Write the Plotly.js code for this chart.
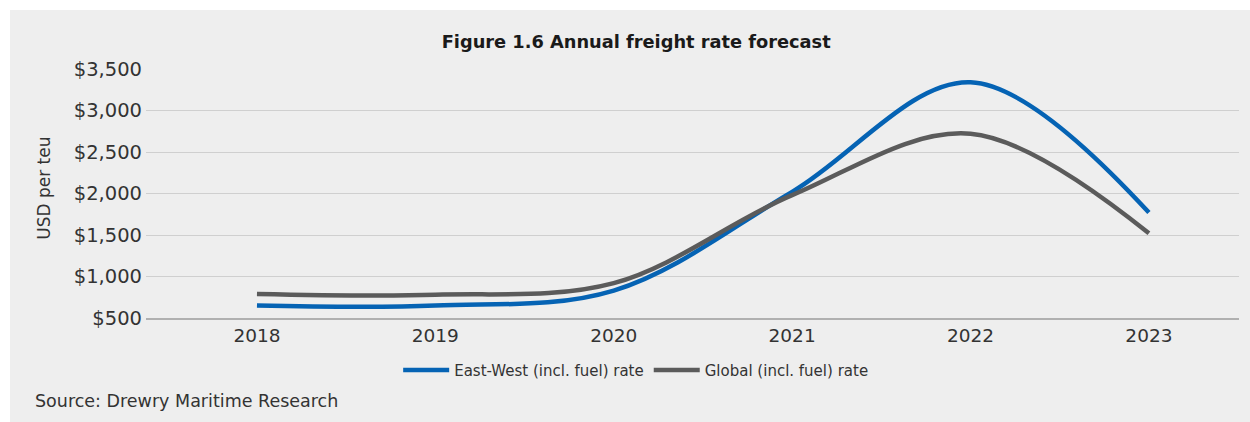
<!DOCTYPE html>
<html>
<head>
<meta charset="utf-8">
<script src="https://cdn.plot.ly/plotly-3.0.1.min.js"></script>
<style>
  html, body { margin: 0; padding: 0; background: #ffffff; }
  #chart { position: absolute; left: 10px; top: 10px; width: 1240px; height: 412px; }
</style>
</head>
<body>
<div id="chart"></div>
<script>
const years = [2018, 2019, 2020, 2021, 2022, 2023];
const yearLabels = ["2018", "2019", "2020", "2021", "2022", "2023"];
const eastWest = [650, 650, 830, 2020, 3340, 1770];
const globalRate = [790, 780, 920, 1980, 2720, 1520];
const yTickVals = [500, 1000, 1500, 2000, 2500, 3000, 3500];
const yTickText = ["$500", "$1,000", "$1,500", "$2,000", "$2,500", "$3,000", "$3,500"];

const FONT = "DejaVu Sans, Verdana, sans-serif";

const traces = [
  {
    x: years, y: eastWest, name: "East-West (incl. fuel) rate",
    type: "scatter", mode: "lines",
    line: { color: "#0563b4", width: 4.5, shape: "spline", smoothing: 1 }
  },
  {
    x: years, y: globalRate, name: "Global (incl. fuel) rate",
    type: "scatter", mode: "lines",
    line: { color: "#5b5b5b", width: 4.5, shape: "spline", smoothing: 1 }
  }
];

const layout = {
  width: 1240, height: 412,
  paper_bgcolor: "#eeeeee", plot_bgcolor: "#eeeeee",
  margin: { l: 136, r: 11, t: 59, b: 104 },
  font: { family: FONT, color: "#333333" },
  title: {
    text: "<b>Figure 1.6 Annual freight rate forecast</b>",
    font: { family: FONT, size: 17.8, color: "#1a1a1a" },
    x: 0.505, xanchor: "center", xref: "container",
    y: 0.922, yanchor: "middle", yref: "container"
  },
  xaxis: {
    range: [2017.378, 2023.505],
    tickvals: years, ticktext: yearLabels,
    showgrid: false, zeroline: false,
    showline: true, linecolor: "#b0b0b0", linewidth: 2,
    ticks: "", tickfont: { family: FONT, size: 18.5, color: "#333333" },
    fixedrange: true
  },
  yaxis: {
    range: [500, 3500],
    tickvals: yTickVals, ticktext: yTickText,
    showgrid: true, gridcolor: "#cfcfcf", gridwidth: 1,
    zeroline: false, showline: false,
    ticks: "", ticklabelstandoff: 3,
    tickfont: { family: FONT, size: 19.5, color: "#333333" },
    fixedrange: true
  },
  showlegend: true,
  legend: {
    orientation: "h", x: 0.448, xanchor: "center", y: -0.21, yanchor: "middle",
    font: { family: FONT, size: 15, color: "#333333" },
    bgcolor: "rgba(0,0,0,0)", itemwidth: 46
  },
  annotations: [
    {
      text: "USD per teu", textangle: -90,
      xref: "paper", yref: "paper", x: -0.094, y: 0.52,
      xanchor: "center", yanchor: "middle", showarrow: false,
      font: { family: FONT, size: 17, color: "#333333" }
    },
    {
      text: "Source: Drewry Maritime Research",
      xref: "paper", yref: "paper", x: -0.1034, y: -0.333,
      xanchor: "left", yanchor: "middle", showarrow: false,
      font: { family: FONT, size: 17.5, color: "#333333" }
    }
  ]
};

Plotly.newPlot("chart", traces, layout, { displayModeBar: false, staticPlot: true });
</script>
</body>
</html>
